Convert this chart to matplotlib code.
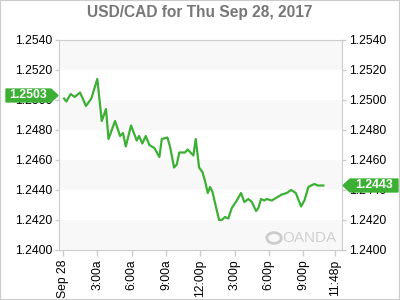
import numpy as np
import matplotlib
matplotlib.use("Agg")
import matplotlib.pyplot as plt
from matplotlib.patches import Polygon, Rectangle, Circle
from matplotlib.transforms import blended_transform_factory

plt.rcParams['font.family'] = ['Liberation Sans', 'DejaVu Sans']

# hours after midnight, Sep 28 2017
hours = [0.09, 0.29, 0.67, 1.02, 1.49, 2.01, 2.48, 3.00, 3.39, 3.76, 3.98, 4.55, 4.99, 5.25, 5.49,
         5.95, 6.45, 6.65, 6.94, 7.24, 7.55, 7.99, 8.43, 8.64, 9.13, 9.36, 9.71, 9.95, 10.17, 10.67,
         10.91, 11.40, 11.61, 11.90, 12.19, 12.42, 12.66, 12.86, 13.06, 13.65, 13.88, 14.17, 14.46,
         14.76, 15.20, 15.57, 15.86, 16.21, 16.51, 16.89, 17.09, 17.32, 17.61, 17.82, 18.26, 18.70,
         19.13, 19.57, 19.95, 20.36, 20.82, 21.11, 21.46, 21.70, 21.99, 22.28, 22.77]
rate = [1.2501, 1.2499, 1.2504, 1.2502, 1.2505, 1.2496, 1.2501, 1.2514, 1.2486, 1.2494, 1.2474,
        1.2486, 1.2476, 1.2478, 1.2469, 1.2483, 1.2473, 1.2476, 1.2471, 1.2476, 1.2470, 1.2468,
        1.2462, 1.2474, 1.2475, 1.2469, 1.2455, 1.2457, 1.2465, 1.2465, 1.2467, 1.2463, 1.2474,
        1.2455, 1.2452, 1.2446, 1.2438, 1.2442, 1.2439, 1.2420, 1.2420, 1.2422, 1.2421, 1.2428,
        1.2433, 1.2438, 1.2432, 1.2434, 1.2432, 1.2426, 1.2428, 1.2434, 1.2433, 1.2434, 1.2433,
        1.2435, 1.2437, 1.2438, 1.2440, 1.2438, 1.2429, 1.2433, 1.2442, 1.2443, 1.2444, 1.2443, 1.2443]
open_rate = 1.2503
last_rate = 1.2443
tick_hours = [0, 3, 6, 9, 12, 15, 18, 21, 23.8]
tick_labels = ["Sep 28", "3:00a", "6:00a", "9:00a", "12:00p", "3:00p", "6:00p", "9:00p", "11:48p"]
y_ticks = [1.2400, 1.2420, 1.2440, 1.2460, 1.2480, 1.2500, 1.2520, 1.2540]

green = '#3cb034'
fig = plt.figure(figsize=(4, 3), dpi=100)
ax = fig.add_axes([59/400, 50/300, 283/400, 210/300])

for i in range(0, len(y_ticks) - 1, 2):
    ax.axhspan(y_ticks[i], y_ticks[i+1], color='#f8f8f8', lw=0, zorder=0)
ax.plot(hours, rate, color=green, lw=1.6, zorder=3)

ax.set_xlim(-0.35, 24.4)
ax.set_ylim(1.2400, 1.2540)
ax.set_yticks(y_ticks)
ax.set_yticklabels([f"{v:.4f}" for v in y_ticks])
ax.set_xticks(tick_hours)
ax.set_xticklabels(tick_labels, rotation=90)
ax.tick_params(axis='y', which='both', left=True, right=True, labelleft=True, labelright=True,
               length=3, width=1, color='#cccccc', labelsize=8.7, pad=2)
ax.tick_params(axis='x', length=4, width=1, color='#cccccc', labelsize=8.7, pad=3)
for s in ax.spines.values():
    s.set_color('#cccccc')

fig.text(0.5, 1 - 12/300, "USD/CAD for Thu Sep 28, 2017", ha='center', va='center',
         fontsize=11.2, fontweight='bold', color='#777777')

# price badges
tr = blended_transform_factory(fig.transFigure, ax.transData)
h = 0.00043
x0, x1, xt = 6/400, 51/400, 58/400
ax.add_patch(Polygon([[x0, open_rate - h], [x1, open_rate - h], [xt, open_rate], [x1, open_rate + h],
                      [x0, open_rate + h]], closed=True, transform=tr, color=green, clip_on=False, zorder=5))
fig.text((x0 + x1) / 2, 0, f"{open_rate:.4f}", transform=tr, ha='center', va='center',
         color='white', fontweight='bold', fontsize=8.8, zorder=6).set_y(open_rate)
x0, x1, xt = 398/400, 350/400, 343/400
ax.add_patch(Polygon([[x0, last_rate - h], [x1, last_rate - h], [xt, last_rate], [x1, last_rate + h],
                      [x0, last_rate + h]], closed=True, transform=tr, color=green, clip_on=False, zorder=5))
fig.text((x0 + x1) / 2, 0, f"{last_rate:.4f}", transform=tr, ha='center', va='center',
         color='white', fontweight='bold', fontsize=8.8, zorder=6).set_y(last_rate)

# watermark
fig.text(336/400, 1 - 238/300, "OANDA", ha='right', va='center', fontsize=11,
         color='#d0d0d0')
fig.patches.append(Circle((274/400, 1 - 238/300), 0.018, transform=fig.transFigure,
                          fill=False, ec='#cccccc', lw=2))

fig.patches.append(Rectangle((0, 0), 1, 1, transform=fig.transFigure, fill=False,
                             ec='#cccccc', lw=1.5))
fig.savefig("out.png", dpi=100)
